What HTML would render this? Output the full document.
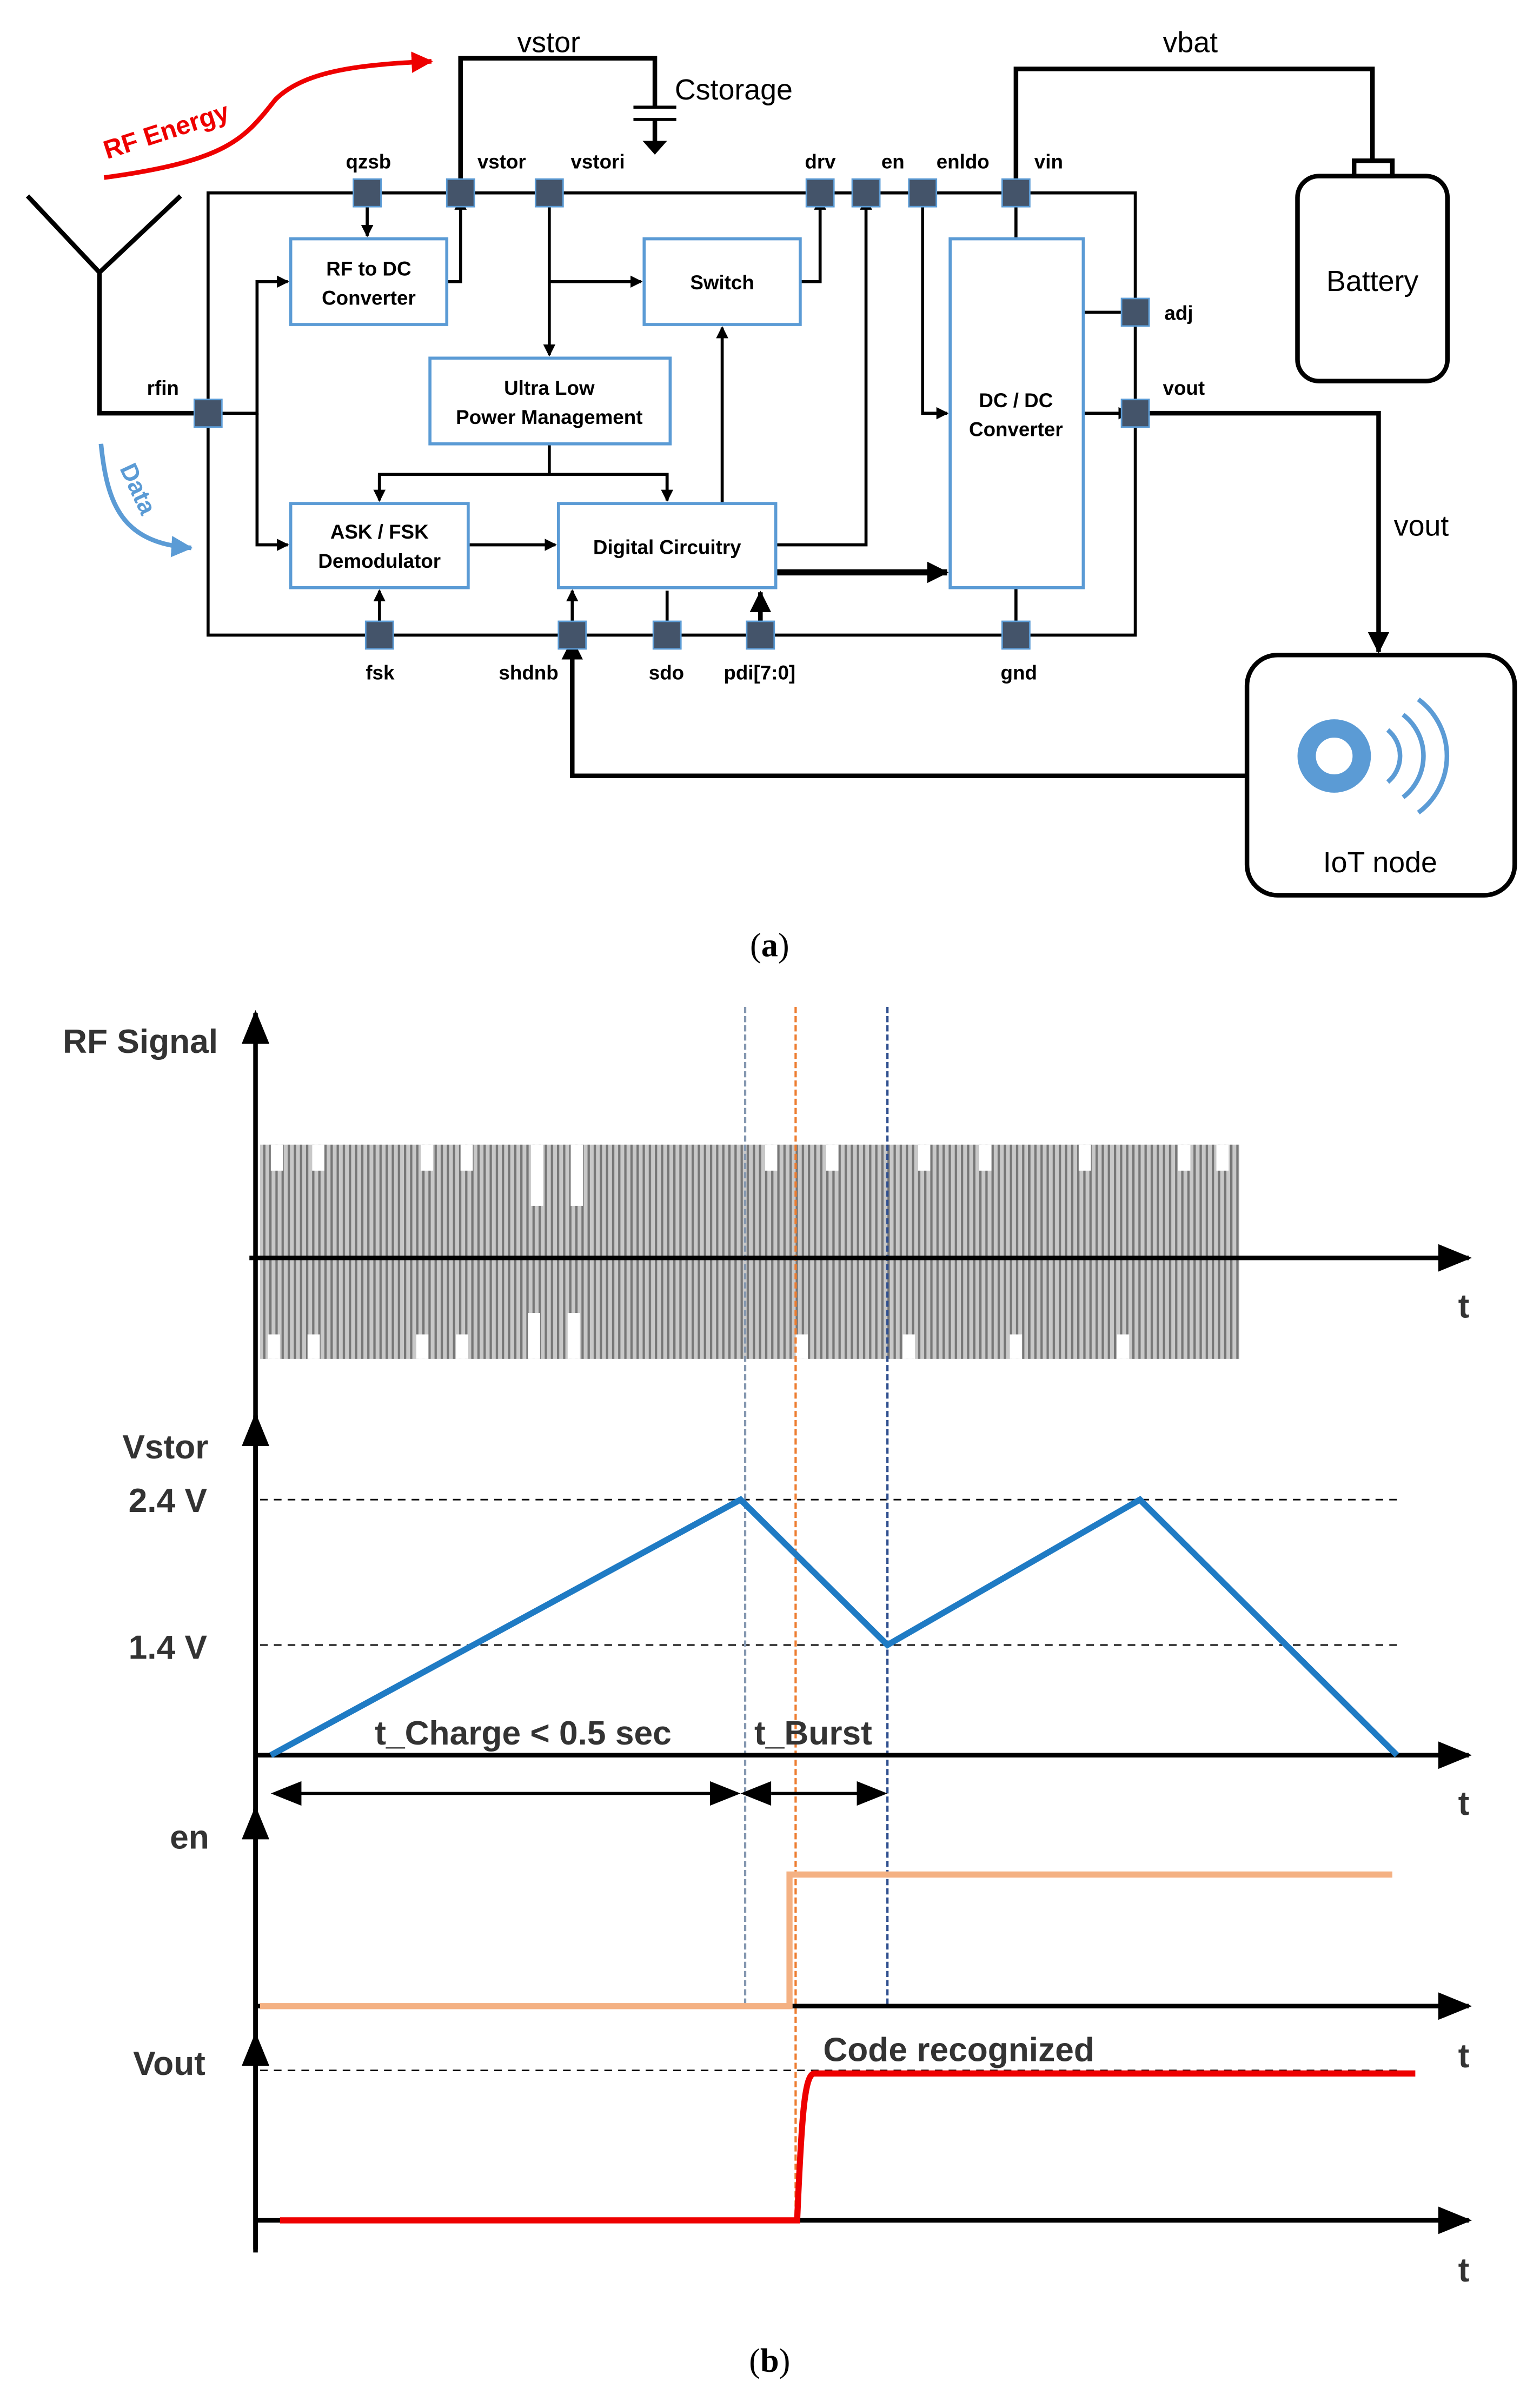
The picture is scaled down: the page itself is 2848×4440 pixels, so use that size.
<!DOCTYPE html>
<html><head><meta charset="utf-8"><style>
html,body{margin:0;padding:0;background:#fff}
svg{display:block}
text{font-family:"Liberation Sans",sans-serif}
.bx{fill:#fff;stroke:#5b9bd5;stroke-width:2}
.bt{font-size:13px;font-weight:bold;text-anchor:middle}
.pl{font-size:13px;font-weight:bold}
.pin{fill:#44546a;stroke:#5b9bd5;stroke-width:1}
.w{stroke:#000;stroke-width:2;fill:none}
.ax{stroke:#000;stroke-width:3;fill:none}
.lb{font-size:22px;font-weight:bold;fill:#333}
</style></head><body>
<svg width="2848" height="4440" viewBox="0 0 1006.5 1569" xmlns="http://www.w3.org/2000/svg">
<defs>
<marker id="a" markerWidth="8" markerHeight="8" refX="7" refY="4" orient="auto" markerUnits="userSpaceOnUse"><path d="M0,0 L8,4 L0,8z" fill="#000"/></marker>
<marker id="A" markerWidth="14" markerHeight="14" refX="13" refY="7" orient="auto" markerUnits="userSpaceOnUse"><path d="M0,0 L14,7 L0,14z" fill="#000"/></marker>
<marker id="ar" markerWidth="14" markerHeight="14" refX="13" refY="7" orient="auto" markerUnits="userSpaceOnUse"><path d="M0,0 L14,7 L0,14z" fill="#e00"/></marker>
<marker id="ab" markerWidth="14" markerHeight="14" refX="13" refY="7" orient="auto" markerUnits="userSpaceOnUse"><path d="M0,0 L14,7 L0,14z" fill="#5b9bd5"/></marker>
<marker id="ax" markerWidth="22" markerHeight="18" refX="20" refY="9" orient="auto" markerUnits="userSpaceOnUse"><path d="M0,0 L22,9 L0,18z" fill="#000"/></marker>
<pattern id="rf" width="4" height="10" patternUnits="userSpaceOnUse"><rect width="4" height="10" fill="#c8c8c8"/><rect width="1.5" height="10" fill="#777"/></pattern>
</defs>

<rect x="136" y="126" width="606" height="289" class="w"/>
<path class="w" d="M18,128 L65,178 L118,128 M65,178 V270 H136" style="stroke-width:3"/>
<path d="M68,116 C150,105 160,90 180,65 C200,45 240,42 282,40" fill="none" stroke="#e00" stroke-width="3" marker-end="url(#ar)"/>
<text x="70" y="104" transform="rotate(-18 70 104)" style="font-size:17px;font-weight:bold;fill:#e00">RF Energy</text>
<path d="M66,290 C70,330 80,355 125,358" fill="none" stroke="#5b9bd5" stroke-width="3" marker-end="url(#ab)"/>
<text x="78" y="306" transform="rotate(65 78 306)" style="font-size:16px;font-weight:bold;fill:#5b9bd5">Data</text>

<path class="w" d="M136,270 H168 V184 H188" marker-end="url(#a)"/>
<path class="w" d="M168,270 V356 H188" marker-end="url(#a)"/>
<path class="w" d="M240,126 V154" marker-end="url(#a)"/>
<path class="w" d="M292,184 H301 V130" marker-end="url(#a)"/>
<path class="w" d="M359,126 V232" marker-end="url(#a)"/>
<path class="w" d="M359,184 H419" marker-end="url(#a)"/>
<path class="w" d="M523,184 H536 V130" marker-end="url(#a)"/>
<path class="w" d="M359,290 V310 M248,327 V310 H436 V327" />
<path class="w" d="M248,310 V327" marker-end="url(#a)"/>
<path class="w" d="M436,310 V327" marker-end="url(#a)"/>
<path class="w" d="M306,356 H363" marker-end="url(#a)"/>
<path class="w" d="M472,329 V214" marker-end="url(#a)"/>
<path class="w" d="M507,356 H566 V130" marker-end="url(#a)"/>
<path class="w" d="M603,126 V270 H619" marker-end="url(#a)"/>
<path d="M507,374 H619" stroke="#000" stroke-width="4" fill="none" marker-end="url(#A)"/>
<path class="w" d="M664,126 V156"/>
<path class="w" d="M708,204 H742"/>
<path class="w" d="M708,270 H738" marker-end="url(#a)"/>
<path class="w" d="M664,384 V415"/>
<path class="w" d="M248,415 V386" marker-end="url(#a)"/>
<path class="w" d="M374,415 V386" marker-end="url(#a)"/>
<path class="w" d="M436,386 V415" marker-end="url(#a)"/>
<path d="M497,415 V387" stroke="#000" stroke-width="3" fill="none" marker-end="url(#A)"/>
<path d="M301,126 V38 H428 V70" stroke="#000" stroke-width="3" fill="none"/>
<path d="M414,70 H442 M414,78 H442" stroke="#000" stroke-width="2"/>
<path d="M428,78 V92" stroke="#000" stroke-width="3"/>
<path d="M420,92 L436,92 L428,101z" fill="#000"/>
<text x="338" y="34" style="font-size:19px">vstor</text>
<text x="441" y="65" style="font-size:19px">Cstorage</text>
<path d="M664,126 V45 H897 V105" stroke="#000" stroke-width="3" fill="none"/>
<text x="760" y="34" style="font-size:19px">vbat</text>
<rect x="848" y="115" width="98" height="134" rx="14" fill="#fff" stroke="#000" stroke-width="3"/>
<rect x="885" y="105" width="25" height="10" fill="#fff" stroke="#000" stroke-width="3"/>
<text x="897" y="190" text-anchor="middle" style="font-size:19px">Battery</text>
<path d="M742,270 H901 V426" stroke="#000" stroke-width="3" fill="none" marker-end="url(#A)"/>
<text x="911" y="350" style="font-size:19px">vout</text>
<rect x="815" y="428" width="175" height="157" rx="20" fill="#fff" stroke="#000" stroke-width="3"/>
<circle cx="872" cy="494" r="18" fill="#fff" stroke="#5b9bd5" stroke-width="12"/>
<path d="M907,477 A22,22 0 0 1 907,511 M917,467 A34,34 0 0 1 917,521 M927,457 A46,46 0 0 1 927,531" fill="none" stroke="#5b9bd5" stroke-width="3"/>
<text x="902" y="570" text-anchor="middle" style="font-size:19px">IoT node</text>
<path d="M815,507 H374 V418" stroke="#000" stroke-width="3" fill="none" marker-end="url(#A)"/>

<rect x="190" y="156" width="102" height="56" class="bx"/><text x="241" y="180" class="bt">RF to DC</text><text x="241" y="199" class="bt">Converter</text>
<rect x="421" y="156" width="102" height="56" class="bx"/><text x="472" y="189" class="bt">Switch</text>
<rect x="281" y="234" width="157" height="56" class="bx"/><text x="359" y="258" class="bt">Ultra Low</text><text x="359" y="277" class="bt">Power Management</text>
<rect x="190" y="329" width="116" height="55" class="bx"/><text x="248" y="352" class="bt">ASK / FSK</text><text x="248" y="371" class="bt">Demodulator</text>
<rect x="365" y="329" width="142" height="55" class="bx"/><text x="436" y="362" class="bt">Digital Circuitry</text>
<rect x="621" y="156" width="87" height="228" class="bx"/><text x="664" y="266" class="bt">DC / DC</text><text x="664" y="285" class="bt">Converter</text>

<g class="pin">
<rect x="231" y="117" width="18" height="18"/><rect x="292" y="117" width="18" height="18"/><rect x="350" y="117" width="18" height="18"/>
<rect x="527" y="117" width="18" height="18"/><rect x="557" y="117" width="18" height="18"/><rect x="594" y="117" width="18" height="18"/><rect x="655" y="117" width="18" height="18"/>
<rect x="127" y="261" width="18" height="18"/><rect x="733" y="195" width="18" height="18"/><rect x="733" y="261" width="18" height="18"/>
<rect x="239" y="406" width="18" height="18"/><rect x="365" y="406" width="18" height="18"/><rect x="427" y="406" width="18" height="18"/><rect x="488" y="406" width="18" height="18"/><rect x="655" y="406" width="18" height="18"/>
</g>
<text x="226" y="110" class="pl">qzsb</text><text x="312" y="110" class="pl">vstor</text><text x="373" y="110" class="pl">vstori</text>
<text x="526" y="110" class="pl">drv</text><text x="576" y="110" class="pl">en</text><text x="612" y="110" class="pl">enldo</text><text x="676" y="110" class="pl">vin</text>
<text x="96" y="258" class="pl">rfin</text><text x="761" y="209" class="pl">adj</text><text x="760" y="258" class="pl">vout</text>
<text x="239" y="444" class="pl">fsk</text><text x="326" y="444" class="pl">shdnb</text><text x="424" y="444" class="pl">sdo</text><text x="473" y="444" class="pl">pdi[7:0]</text><text x="654" y="444" class="pl">gnd</text>
<text x="503" y="625" text-anchor="middle" style="font-family:'Liberation Serif',serif;font-size:22px">(<tspan font-weight="bold">a</tspan>)</text>

<rect x="170" y="748" width="640" height="140" fill="url(#rf)"/>
<g fill="#fff">
<rect x="177" y="748" width="8" height="17"/><rect x="204" y="748" width="8" height="17"/><rect x="275" y="748" width="8" height="17"/><rect x="301" y="748" width="8" height="17"/><rect x="347" y="748" width="8" height="40"/><rect x="373" y="748" width="8" height="40"/>
<rect x="500" y="748" width="8" height="17"/><rect x="540" y="748" width="8" height="17"/><rect x="600" y="748" width="8" height="17"/><rect x="640" y="748" width="8" height="17"/><rect x="705" y="748" width="8" height="17"/><rect x="770" y="748" width="8" height="17"/><rect x="795" y="748" width="8" height="17"/>
<rect x="175" y="872" width="8" height="16"/><rect x="201" y="872" width="8" height="16"/><rect x="272" y="872" width="8" height="16"/><rect x="298" y="872" width="8" height="16"/><rect x="345" y="858" width="8" height="30"/><rect x="371" y="858" width="8" height="30"/>
<rect x="520" y="872" width="8" height="16"/><rect x="590" y="872" width="8" height="16"/><rect x="660" y="872" width="8" height="16"/><rect x="730" y="872" width="8" height="16"/>
</g>
<path d="M170,980 H915 M170,1075 H915 M170,1353 H915" stroke="#000" stroke-width="1" stroke-dasharray="5,4"/>
<path d="M487,658 V1311" stroke="#8497b0" stroke-width="1.5" stroke-dasharray="4,2"/>
<path d="M520,658 V1450" stroke="#ed7d31" stroke-width="1.5" stroke-dasharray="4,2"/>
<path d="M580,658 V1311" stroke="#2f4f8f" stroke-width="1.5" stroke-dasharray="4,2"/>
<path class="ax" d="M167,1472 V662" marker-end="url(#ax)"/>
<path class="ax" d="M167,1200 V925" marker-end="url(#ax)"/>
<path class="ax" d="M167,1330 V1182" marker-end="url(#ax)"/>
<path class="ax" d="M167,1470 V1330" marker-end="url(#ax)"/>
<path class="ax" d="M163,822 H960" marker-end="url(#ax)"/>
<path class="ax" d="M167,1147 H960" marker-end="url(#ax)"/>
<path class="ax" d="M167,1311 H960" marker-end="url(#ax)"/>
<path class="ax" d="M167,1451 H960" marker-end="url(#ax)"/>
<g class="lb"><text x="953" y="861">t</text><text x="953" y="1186">t</text><text x="953" y="1351">t</text><text x="953" y="1491">t</text></g>
<text x="41" y="688" class="lb">RF Signal</text>
<text x="80" y="953" class="lb">Vstor</text>
<text x="84" y="988" class="lb">2.4 V</text>
<text x="84" y="1084" class="lb">1.4 V</text>
<text x="111" y="1208" class="lb">en</text>
<text x="87" y="1356" class="lb">Vout</text>
<path d="M177,1147 L484,980 L580,1075 L745,980 L913,1147" fill="none" stroke="#1f7bc4" stroke-width="4"/>
<path d="M170,1311 H516 V1225 H910" fill="none" stroke="#f4b183" stroke-width="4"/>
<path d="M183,1451 H521 C524,1380 526,1356 532,1355 H925" fill="none" stroke="#e00" stroke-width="4"/>
<path d="M196,1172 H466" stroke="#000" stroke-width="2"/>
<path d="M177,1172 L197,1164 L197,1180z M484,1172 L464,1164 L464,1180z M484,1172 L504,1164 L504,1180z M580,1172 L560,1164 L560,1180z" fill="#000"/>
<path d="M504,1172 H562" stroke="#000" stroke-width="2"/>
<text x="245" y="1140" class="lb">t_Charge &lt; 0.5 sec</text>
<text x="493" y="1140" class="lb">t_Burst</text>
<text x="538" y="1347" class="lb">Code recognized</text>
<text x="503" y="1550" text-anchor="middle" style="font-family:'Liberation Serif',serif;font-size:22px">(<tspan font-weight="bold">b</tspan>)</text>
</svg>
</body></html>
